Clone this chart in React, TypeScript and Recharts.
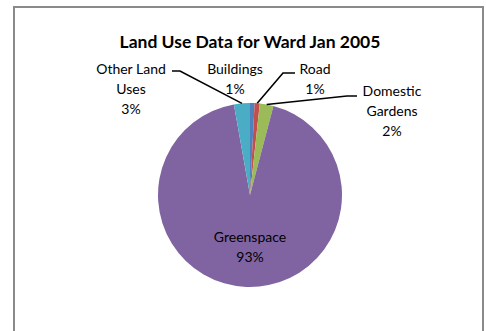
import { PieChart, Pie, Cell } from "recharts";

// Slices in the order Excel draws them, clockwise from 12 o'clock.
const categories = ["Buildings", "Road", "Domestic Gardens", "Greenspace", "Other Land Uses"];
const shares = [0.8, 0.9, 2.4, 93.1, 2.8];
const sliceColors = ["#4F81BD", "#C0504D", "#9BBB59", "#8064A2", "#4BACC6"];

const data = categories.map((name, i) => ({ name, value: shares[i] }));

const RADIAN = Math.PI / 180;
const LINE_H = 20;

// Where each label sits, relative to the pie centre. Leader lines go from the
// slice edge to an elbow, then across to the label.
type LabelSpot = {
  lines: string[];
  x: number;
  y: number;
  elbow?: [number, number];
  end?: [number, number];
};

const labelSpots: Record<string, LabelSpot> = {
  Buildings: { lines: ["Buildings"], x: -15, y: -127 },
  Road: { lines: ["Road"], x: 65, y: -127, elbow: [33, -122], end: [45, -122] },
  "Domestic Gardens": { lines: ["Domestic", "Gardens"], x: 142, y: -105, elbow: [97, -99], end: [107, -99] },
  Greenspace: { lines: ["Greenspace"], x: 0, y: 41 },
  "Other Land Uses": { lines: ["Other Land", "Uses"], x: -119, y: -127, elbow: [-70, -124], end: [-78, -124] },
};

const renderLabel = (props: any) => {
  const { cx, cy, midAngle, outerRadius, percent, name } = props;
  const spot = labelSpots[name];
  if (!spot) return null;
  const ex = cx + outerRadius * Math.cos(-midAngle * RADIAN);
  const ey = cy + outerRadius * Math.sin(-midAngle * RADIAN);
  const rows = [...spot.lines, `${Math.round(percent * 100)}%`];
  return (
    <g>
      {spot.elbow && spot.end && (
        <polyline
          points={`${ex},${ey} ${cx + spot.elbow[0]},${cy + spot.elbow[1]} ${cx + spot.end[0]},${cy + spot.end[1]}`}
          fill="none"
          stroke="#000"
          strokeWidth={1.6}
        />
      )}
      {rows.map((t, i) => (
        <text
          key={i}
          x={cx + spot.x}
          y={cy + spot.y + i * LINE_H}
          textAnchor="middle"
          dominantBaseline="central"
          fontSize={14}
          fill="#000"
          fontFamily="Lato, 'Open Sans', sans-serif"
        >
          {t}
        </text>
      ))}
    </g>
  );
};

export default function App() {
  return (
    <div style={{ position: "absolute", left: 0, top: 0, width: 486, height: 331, background: "#fff", overflow: "hidden" }}>
      {/* chart area frame, bottom edge runs off the picture */}
      <div
        style={{
          position: "absolute",
          left: 13,
          top: 6,
          width: 471,
          height: 340,
          border: "2px solid #8a8a8a",
          boxSizing: "border-box",
        }}
      />
      <div
        style={{
          position: "absolute",
          left: 0,
          top: 31,
          width: 500,
          textAlign: "center",
          fontFamily: "Lato, 'Open Sans', sans-serif",
          fontWeight: 700,
          fontSize: 17.5,
          color: "#000",
        }}
      >
        Land Use Data for Ward Jan 2005
      </div>
      <div style={{ position: "absolute", left: 0, top: 0 }}>
        <PieChart width={486} height={331} margin={{ top: 0, right: 0, bottom: 0, left: 0 }}>
          <Pie
            data={data}
            dataKey="value"
            nameKey="name"
            cx={250}
            cy={195}
            outerRadius={92}
            startAngle={90}
            endAngle={-270}
            stroke="none"
            label={renderLabel}
            labelLine={false}
            isAnimationActive={false}
          >
            {data.map((d, i) => (
              <Cell key={d.name} fill={sliceColors[i]} />
            ))}
          </Pie>
        </PieChart>
      </div>
    </div>
  );
}
